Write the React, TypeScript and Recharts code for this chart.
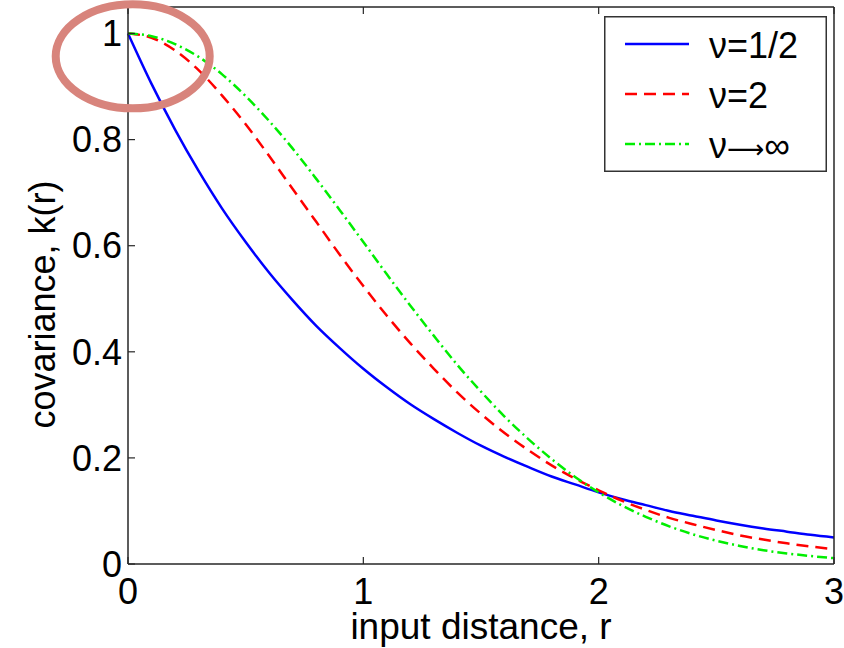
import { LineChart, Line, XAxis, YAxis, ReferenceDot, Legend } from 'recharts'

// input distance r
const distance = [
  0, 0.1, 0.2, 0.3, 0.4, 0.5, 0.6, 0.7, 0.8, 0.9, 1, 1.1, 1.2, 1.3, 1.4, 1.5,
  1.6, 1.7, 1.8, 1.9, 2, 2.1, 2.2, 2.3, 2.4, 2.5, 2.6, 2.7, 2.8, 2.9, 3,
]

// covariance k(r)
const nuHalf = [
  1, 0.905, 0.819, 0.741, 0.67, 0.607, 0.549, 0.497, 0.449, 0.407, 0.368,
  0.333, 0.301, 0.273, 0.247, 0.223, 0.202, 0.183, 0.165, 0.15, 0.135, 0.122,
  0.111, 0.1, 0.091, 0.082, 0.074, 0.067, 0.061, 0.055, 0.05,
]
const nuTwo = [
  1, 0.992, 0.968, 0.931, 0.883, 0.829, 0.769, 0.707, 0.645, 0.583, 0.524,
  0.468, 0.416, 0.368, 0.323, 0.283, 0.247, 0.215, 0.186, 0.161, 0.139, 0.119,
  0.102, 0.087, 0.075, 0.064, 0.054, 0.046, 0.039, 0.033, 0.028,
]
const nuInf = [
  1, 0.995, 0.98, 0.956, 0.923, 0.882, 0.835, 0.783, 0.726, 0.667, 0.607,
  0.546, 0.487, 0.43, 0.375, 0.325, 0.278, 0.236, 0.198, 0.164, 0.135, 0.11,
  0.089, 0.071, 0.056, 0.044, 0.034, 0.026, 0.02, 0.015, 0.011,
]

const xTicks = [0, 1, 2, 3]
const yTicks = [0, 0.2, 0.4, 0.6, 0.8, 1]
const seriesNames = ['ν=1/2', 'ν=2', 'ν→∞']

// the highlighted spot near r=0, k=1
const highlight = { r: 0.02, k: 0.957 }

const data = distance.map((r, i) => ({
  r,
  half: nuHalf[i],
  two: nuTwo[i],
  inf: nuInf[i],
}))

const FONT = '"Liberation Sans", Arial, sans-serif'
const AXIS = '#262626'

const series = [
  { key: 'half', name: seriesNames[0], color: '#0000ff', dash: undefined },
  { key: 'two', name: seriesNames[1], color: '#ff0000', dash: '12 7' },
  { key: 'inf', name: seriesNames[2], color: '#00ee00', dash: '10 4 2 4' },
]

// long thin arrow like the original, drawn with DejaVu's long arrow glyph
function LegendLabel({ text }: { text: string }) {
  const parts = text.split('→')
  if (parts.length === 1) return <>{text}</>
  return (
    <>
      {parts[0]}
      <tspan fontFamily='"DejaVu Sans", sans-serif' fontSize={26}>⟶</tspan>
      {parts[1]}
    </>
  )
}

function LegendBox() {
  return (
    <svg width={223} height={156} style={{ display: 'block' }}>
      <rect x={0.75} y={0.75} width={221.5} height={154.5} fill="#fff" stroke="#333" strokeWidth={1.5} />
      {series.map((s, i) => (
        <g key={s.key}>
          <line
            x1={21}
            x2={85}
            y1={28 + i * 50}
            y2={28 + i * 50}
            stroke={s.color}
            strokeWidth={2.5}
            strokeDasharray={s.dash}
          />
          <text x={105} y={42 + i * 50} fontSize={36} fontFamily={FONT} fill="#000">
            <LegendLabel text={s.name} />
          </text>
        </g>
      ))}
    </svg>
  )
}

export default function App() {
  const tickStyle = { fontSize: 36, fontFamily: FONT, fill: '#000' }
  const boxLine = { stroke: AXIS, strokeWidth: 1.5 }
  const tickLine = { stroke: AXIS, strokeWidth: 1.2 }
  return (
    <div style={{ position: 'absolute', left: 0, top: 0, width: 844, height: 648, background: '#fff' }}>
      <LineChart width={844} height={648} data={data} margin={{ top: 6, right: 9, bottom: 0, left: 0 }}>
        <XAxis
          dataKey="r"
          type="number"
          domain={[0, 3]}
          ticks={xTicks}
          height={84}
          tickSize={-7}
          tickMargin={21}
          tick={tickStyle}
          axisLine={boxLine}
          tickLine={tickLine}
          label={{
            value: 'input distance, r',
            position: 'insideBottom',
            offset: 9,
            style: { fontSize: 37, fontFamily: FONT, fill: '#000' },
          }}
        />
        <XAxis
          xAxisId="top"
          orientation="top"
          dataKey="r"
          type="number"
          domain={[0, 3]}
          ticks={xTicks}
          height={1}
          tickSize={-7}
          tickFormatter={() => ''}
          axisLine={boxLine}
          tickLine={tickLine}
        />
        <YAxis
          type="number"
          domain={[0, 1.05]}
          ticks={yTicks}
          width={128}
          tickSize={-7}
          tickMargin={13}
          tick={tickStyle}
          axisLine={boxLine}
          tickLine={tickLine}
          label={{
            value: 'covariance, k(r)',
            angle: -90,
            position: 'center',
            dx: -22,
            dy: 19,
            style: { fontSize: 36, fontFamily: FONT, fill: '#000', textAnchor: 'middle' },
          }}
        />
        <YAxis
          yAxisId="right"
          orientation="right"
          type="number"
          domain={[0, 1.05]}
          ticks={yTicks}
          width={1}
          tickSize={-7}
          tickFormatter={() => ''}
          axisLine={boxLine}
          tickLine={tickLine}
        />
        {series.map((s) => (
          <Line
            key={s.key}
            dataKey={s.key}
            name={s.name}
            type="monotone"
            stroke={s.color}
            strokeWidth={2.5}
            strokeDasharray={s.dash}
            dot={false}
            activeDot={false}
            isAnimationActive={false}
          />
        ))}
        <ReferenceDot
          x={highlight.r}
          y={highlight.k}
          ifOverflow="visible"
          shape={(p: any) => (
            <ellipse cx={p.cx} cy={p.cy} rx={77} ry={52} fill="none" stroke="#d8847c" strokeWidth={8} />
          )}
        />
        <Legend
          layout="horizontal"
          align="center"
          verticalAlign="middle"
          content={() => <LegendBox />}
          wrapperStyle={{ position: 'absolute', left: 604, top: 16, width: 223, height: 156 }}
        />
      </LineChart>
    </div>
  )
}
